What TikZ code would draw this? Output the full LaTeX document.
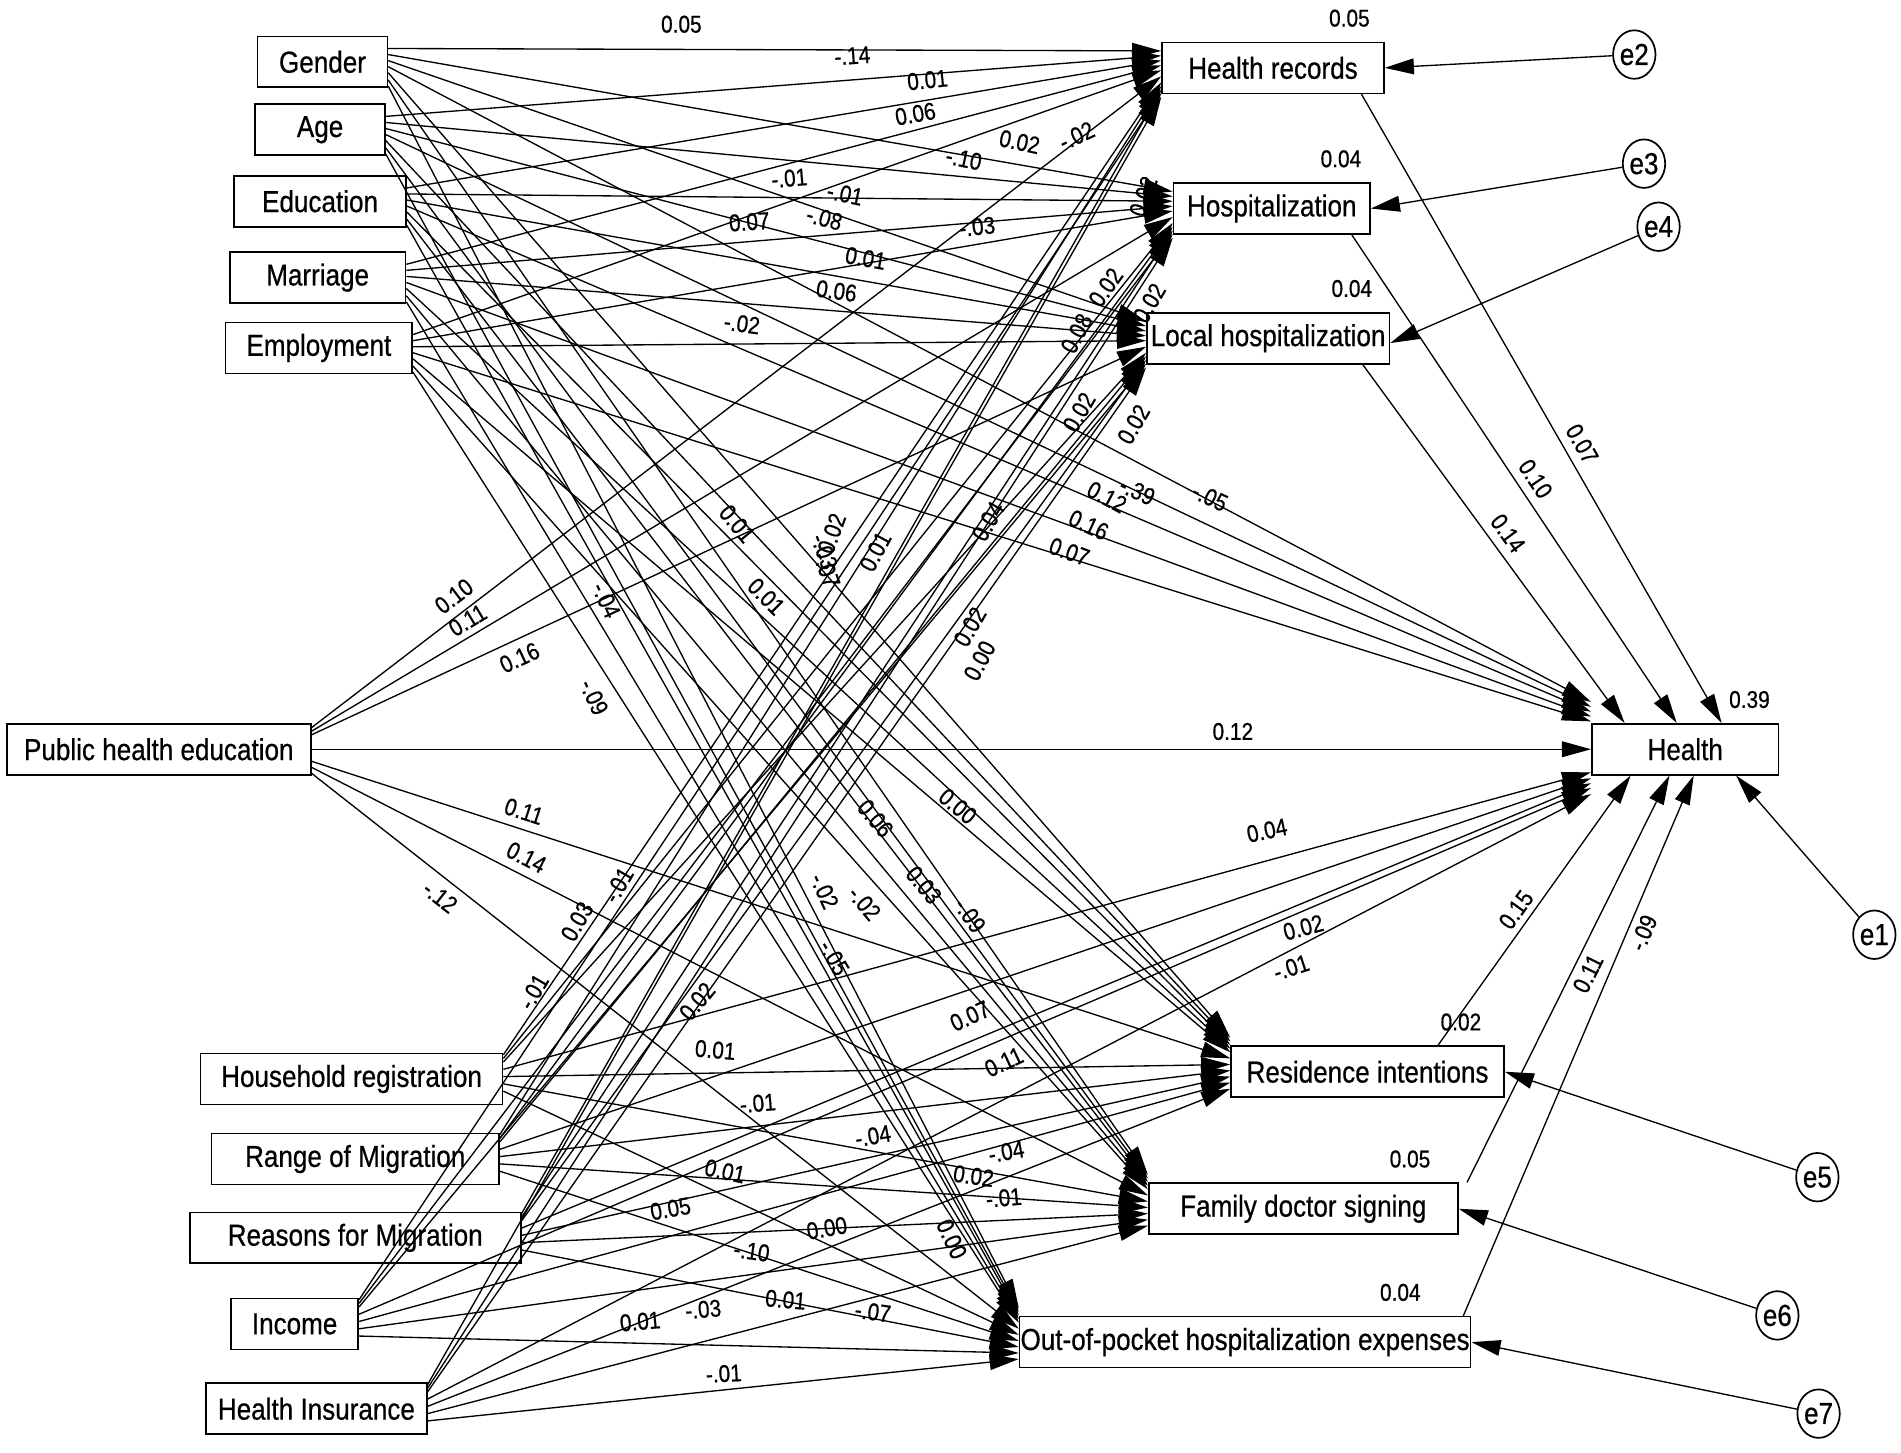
\documentclass[tikz,border=0pt]{standalone}
\usepackage{fontspec}
\setmainfont{Liberation Sans}[FakeStretch=0.86,FakeBold=0.6]
\usetikzlibrary{calc,arrows.meta,shapes.geometric}
\begin{document}
\begin{tikzpicture}[x=0.5pt,y=-0.5pt,
  box/.style={draw, line width=0.7pt, inner sep=0pt, minimum height=21pt, font=\fontsize{12.5}{15}\selectfont},
  err/.style={draw, ellipse, line width=0.7pt, inner sep=0pt, minimum width=17.5pt, minimum height=20pt, font=\fontsize{12.5}{15}\selectfont},
  arr/.style={line width=0.55pt, -{Triangle[length=12pt,width=6.5pt]}},
  lab/.style={font=\fontsize{10}{12}\selectfont, inner sep=0.5pt},
]
\useasboundingbox (0,0) rectangle (1568,1198);

% exogenous
\node[box, minimum width=53.5pt] (Gen) at (266,51) {Gender};
\node[box, minimum width=53.5pt] (Age) at (264,107) {Age};
\node[box, minimum width=71pt] (Edu) at (264,166) {Education};
\node[box, minimum width=72.5pt] (Mar) at (262,229) {Marriage};
\node[box, minimum width=77pt] (Emp) at (263,287) {Employment};
\node[box, minimum width=125.5pt] (PHE) at (131,618) {Public health education};
\node[box, minimum width=124.5pt] (HR) at (290,890) {Household registration};
\node[box, minimum width=118.5pt] (RM) at (293,956) {Range of Migration};
\node[box, minimum width=136.5pt] (RR) at (293,1021) {Reasons for Migration};
\node[box, minimum width=52.5pt] (Inc) at (243,1092) {Income};
\node[box, minimum width=91pt] (HI) at (261,1162) {Health Insurance};
% mediators
\node[box, minimum width=91.5pt] (Rec) at (1050,56) {Health records};
\node[box, minimum width=81pt] (Hos) at (1049,172) {Hospitalization};
\node[box, minimum width=100pt] (Loc) at (1046,279) {Local hospitalization};
\node[box, minimum width=112.5pt] (Res) at (1128,884) {Residence intentions};
\node[box, minimum width=127.5pt] (Fam) at (1075,997) {Family doctor signing};
\node[box, minimum width=186pt] (Oop) at (1027,1107) {Out-of-pocket hospitalization expenses};
\node[box, minimum width=77pt] (H) at (1390,618) {Health};
% errors
\node[err] (e1) at (1546,771) {e1};
\node[err] (e2) at (1348,45) {e2};
\node[err] (e3) at (1356,135) {e3};
\node[err] (e4) at (1368,187) {e4};
\node[err] (e5) at (1499,971) {e5};
\node[err] (e6) at (1466,1085) {e6};
\node[err] (e7) at (1500,1166) {e7};

% squared multiple correlations
\node[lab] (r2) at (1113,15) {0.05};
\node[lab] (r3) at (1106,131) {0.04};
\node[lab] (r4) at (1115,238) {0.04};
\node[lab] (r1) at (1443,577) {0.39};
\node[lab] (r5) at (1205,843) {0.02};
\node[lab] (r6) at (1163,956) {0.05};
\node[lab] (r7) at (1155,1066) {0.04};

% top group of covariates
\foreach \s/\et/\eh/\eb in {Gen/-14/-39/-28, Age/-10/-35/-25, Edu/-6/-31/-22, Mar/-2/-27/-19, Emp/2/-23/-16}{
  \draw[arr] ($(\s.east)+(0,-11)$) -- ($(Rec.west)+(0,\et)$);
  \draw[arr] ($(\s.east)+(0,-6)$) -- ($(Hos.west)+(0,\et)$);
  \draw[arr] ($(\s.east)+(0,-1)$) -- ($(Loc.west)+(0,\et)$);
  \draw[arr] ($(\s.east)+(0,4)$) -- ($(H.west)+(0,\eh)$);
  \draw[arr] ($(\s.east)+(0,9)$) -- ($(Res.west)+(0,\eb)$);
  \draw[arr] ($(\s.east)+(0,15)$) -- ($(Fam.west)+(0,\eb)$);
  \draw[arr] ($(\s.east)+(0,20)$) -- ($(Oop.west)+(0,\eb)$);
}
% bottom group of covariates
\foreach \s/\et/\eh/\eb in {HR/12/19/-6, RM/15/24/-1, RR/18/28/4, Inc/21/32/9, HI/24/37/14}{
  \draw[arr] ($(\s.east)+(0,-20)$) -- ($(Rec.west)+(0,\et)$);
  \draw[arr] ($(\s.east)+(0,-17)$) -- ($(Hos.west)+(0,\et)$);
  \draw[arr] ($(\s.east)+(0,-14)$) -- ($(Loc.west)+(0,\et)$);
  \draw[arr] ($(\s.east)+(0,-8)$) -- ($(H.west)+(0,\eh)$);
  \draw[arr] ($(\s.east)+(0,-2)$) -- ($(Res.west)+(0,\eb)$);
  \draw[arr] ($(\s.east)+(0,4)$) -- ($(Fam.west)+(0,\eb)$);
  \draw[arr] ($(\s.east)+(0,10)$) -- ($(Oop.west)+(0,\eb)$);
}
% public health education
\draw[arr] ($(PHE.east)+(0,-18)$) -- node[lab,sloped,above=3pt,pos=.18] (p1) {0.10} ($(Rec.west)+(0,7)$);
\draw[arr] ($(PHE.east)+(0,-15)$) -- node[lab,sloped,above=2pt,pos=.19] (p2) {0.11} ($(Hos.west)+(0,7)$);
\draw[arr] ($(PHE.east)+(0,-12)$) -- node[lab,sloped,below=3pt,pos=.24] (p3) {0.16} ($(Loc.west)+(0,7)$);
\draw[arr] (PHE.east) -- node[lab,above=3pt,pos=.72] (p4) {0.12} (H.west);
\draw[arr] ($(PHE.east)+(0,10)$) -- node[lab,sloped,above=3pt,pos=.225] (p5) {0.11} ($(Res.west)+(0,-11)$);
\draw[arr] ($(PHE.east)+(0,15)$) -- node[lab,sloped,above=3pt,pos=.247] (p6) {0.14} ($(Fam.west)+(0,-11)$);
\draw[arr] ($(PHE.east)+(0,20)$) -- node[lab,sloped,below=3pt,pos=.197] (p7) {-.12} ($(Oop.west)+(0,-11)$);

% mediators to health
\draw[arr] ($(Rec.south)+(73,0)$) -- node[lab,sloped,above=3pt,pos=.57] (m1) {0.07} ($(H.north)+(30,0)$);
\draw[arr] ($(Hos.south)+(66,0)$) -- node[lab,sloped,above=3pt,pos=.52] (m2) {0.10} ($(H.north)+(-7,0)$);
\draw[arr] ($(Loc.south)+(78,0)$) -- node[lab,sloped,above=3pt,pos=.50] (m3) {0.14} ($(H.north)+(-50,0)$);
\draw[arr] ($(Res.north)+(58,0)$) -- node[lab,sloped,above=2pt,pos=.47] (m4) {0.15} ($(H.south)+(-45,0)$);
\draw[arr] ($(Fam.north)+(135,0)$) -- node[lab,sloped,below=2pt,pos=.53] (m5) {0.11} ($(H.south)+(-13,0)$);
\draw[arr] ($(Oop.north)+(180,0)$) -- node[lab,sloped,below=2pt,pos=.72] (m6) {-.09} ($(H.south)+(7,0)$);

% error terms
\draw[arr] (e2) -- (Rec.east);
\draw[arr] (e3) -- (Hos.east);
\draw[arr] (e4) -- ($(Loc.east)+(0,4)$);
\draw[arr] (e5) -- (Res.east);
\draw[arr] (e6) -- (Fam.east);
\draw[arr] (e7) -- (Oop.east);
\draw[arr] (e1) -- ($(H.south)+(42,0)$);

% path coefficients in the dense area
\foreach \x/\y/\r/\t [count=\i] in {
562/20/0/0.05, 703/46/4/-.14, 765/66/6/0.01, 755/94/10/0.06, 841/117/-12/0.02,
888/112/25/-.02, 795/131/-12/-.10, 651/147/5/-.01, 697/160/-12/-.01, 618/183/4/0.07,
680/180/-15/-.08, 806/187/6/-.03, 714/213/-10/0.01, 690/240/-8/0.06, 612/267/-8/-.02,
943/162/70/0.02, 912/237/55/0.02, 888/275/62/0.08, 948/250/60/0.02, 890/340/60/0.02,
935/350/60/0.02, 938/405/-25/-.39, 998/410/-25/-.05, 913/410/-28/0.12, 898/433/-25/0.16,
882/455/-20/0.07, 815/430/60/0.04, 722/455/62/0.01, 608/432/-50/0.01, 686/440/70/0.02,
680/455/-70/-.03, 682/470/-70/-.07, 632/492/-45/0.01, 500/495/-65/-.04, 490/575/-65/-.09,
800/517/60/0.02, 808/545/62/0.00, 722/675/-50/0.06, 790/665/-40/0.00, 510/730/60/-.01,
476/760/60/0.03, 440/818/60/-.01, 1045/685/12/0.04, 680/735/-65/-.02, 713/745/-50/-.02,
762/730/-50/0.03, 800/755/-55/-.09, 688/790/-60/-.05, 1075/765/15/0.02, 1065/798/18/-.01,
575/826/50/0.02, 800/838/25/0.07, 828/876/25/0.11, 590/866/-5/0.01, 625/910/5/-.01,
720/937/10/-.04, 830/950/10/-.04, 803/970/-8/0.02, 598/966/-12/0.01, 828/988/5/-.01,
553/997/10/0.05, 682/1013/10/0.00, 785/1022/-65/0.00, 620/1032/-8/-.10, 648/1072/-5/0.01,
720/1082/-8/-.07, 528/1090/5/0.01, 580/1080/5/-.03, 597/1133/3/-.01}{
  \node[lab, rotate=\r] (q\i) at (\x,\y) {\t};
}
\end{tikzpicture}
\end{document}
